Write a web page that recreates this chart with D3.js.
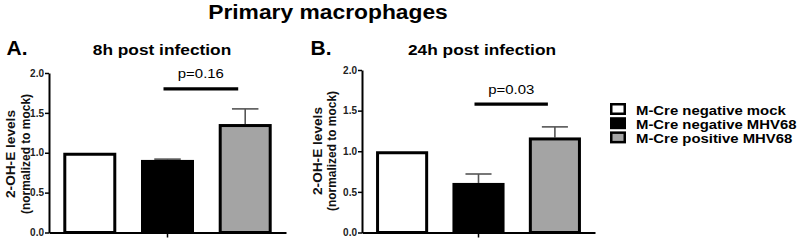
<!DOCTYPE html>
<html>
<head>
<meta charset="utf-8">
<script src="https://cdn.jsdelivr.net/npm/d3@7"></script>
<style>
  body { margin: 0; background: #fff; }
  svg { display: block; font-family: "Liberation Sans", Arial, sans-serif; }
</style>
</head>
<body>
<svg id="chart" width="800" height="241"></svg>
<script>
// data
const groups = ["M-Cre negative mock", "M-Cre negative MHV68", "M-Cre positive MHV68"];
const panelLetters = ["A.", "B."];
const panelTitles = ["8h post infection", "24h post infection"];
const means8h = [1.0, 0.91, 1.36];
const sem8h = [0, 0.01, 0.19];
const means24h = [1.0, 0.61, 1.17];
const sem24h = [0, 0.11, 0.13];
const pLabels = ["p=0.16", "p=0.03"];
const pLevels = [1.8, 1.58];
const yTicks = [0, 0.5, 1.0, 1.5, 2.0];
const fills = ["#ffffff", "#000000", "#a4a4a4"];

const svg = d3.select("#chart");

// text helper, the figure's lettering is a bit wider than Liberation Sans
function label(g, x, y, str, size, weight, anchor, sx) {
  return g.append("text")
    .attr("transform", `translate(${x},${y}) scale(${sx || 1},1)`)
    .attr("text-anchor", anchor || "start")
    .style("font-size", size + "px")
    .style("font-weight", weight || "bold")
    .attr("fill", "#000")
    .text(str);
}

label(svg, 328, 18.5, "Primary macrophages", 19.5, "bold", "middle", 1.17);

const panels = [
  { means: means8h, sem: sem8h, x0: 49, x1: 286, yTop: 73, letterX: 6.5, titleX: 162, lab1: 15, lab2: 29.5, labY: 154 },
  { means: means24h, sem: sem24h, x0: 362, x1: 595, yTop: 70, letterX: 310.5, titleX: 482, lab1: 322, lab2: 336, labY: 151 }
];

panels.forEach((p, i) => {
  const g = svg.append("g");

  const x = d3.scaleBand()
    .domain(groups)
    .range([p.x0, p.x1])
    .paddingInner(0.318)
    .paddingOuter(0.184);

  const y = d3.scaleLinear()
    .domain([0, 2])
    .range([232.5, p.yTop]);

  label(g, p.letterX, 55, panelLetters[i], 21, "bold", "start", 1);
  label(g, p.titleX, 54.5, panelTitles[i], 14.8, "bold", "middle", 1.17);

  // y title, two lines
  const yl = g.append("text")
    .attr("transform", `rotate(-90)`)
    .attr("text-anchor", "middle")
    .style("font-size", "12.5px")
    .style("font-weight", "bold")
    .attr("fill", "#111");
  yl.append("tspan").attr("x", -p.labY).attr("y", p.lab1)
    .attr("textLength", 88).attr("lengthAdjust", "spacingAndGlyphs").text("2-OH-E levels");
  yl.append("tspan").attr("x", -p.labY).attr("y", p.lab2)
    .attr("textLength", 120).attr("lengthAdjust", "spacingAndGlyphs").text("(normalized to mock)");

  const bw = x.bandwidth();

  // error bars (upper whisker only)
  const err = g.append("g").attr("stroke", "#555").attr("stroke-width", 1.6);
  groups.forEach((d, j) => {
    if (p.sem[j] <= 0) return;
    const cx = x(d) + bw / 2;
    err.append("line")
      .attr("x1", cx).attr("x2", cx)
      .attr("y1", y(p.means[j])).attr("y2", y(p.means[j] + p.sem[j]));
    err.append("line")
      .attr("x1", cx - bw / 4).attr("x2", cx + bw / 4)
      .attr("y1", y(p.means[j] + p.sem[j])).attr("y2", y(p.means[j] + p.sem[j]));
  });

  g.selectAll("rect.bar")
    .data(groups)
    .join("rect")
    .attr("class", "bar")
    .attr("x", d => x(d) + 1.5)
    .attr("width", bw - 3)
    .attr("y", (d, j) => y(p.means[j]) + 1.5)
    .attr("height", (d, j) => y(0) - y(p.means[j]) - 1.5)
    .attr("fill", (d, j) => fills[j])
    .attr("stroke", "#000")
    .attr("stroke-width", 3);

  // axes
  const ay = g.append("g")
    .attr("transform", `translate(${p.x0},0)`)
    .call(d3.axisLeft(y).tickValues(yTicks).tickFormat(d3.format(".1f")).tickSize(4).tickSizeOuter(0).tickPadding(1));
  ay.select(".domain").attr("stroke-width", 2);
  ay.selectAll(".tick line").attr("stroke-width", 1.5);
  ay.selectAll(".tick text")
    .style("font-size", "10px")
    .style("font-weight", "bold")
    .style("font-family", "'Liberation Sans', Arial, sans-serif")
    .attr("fill", "#222");

  const ax = g.append("g")
    .attr("transform", `translate(0,${y(0)})`)
    .call(d3.axisBottom(x).tickValues([groups[1]]).tickFormat("").tickSize(5).tickSizeOuter(0));
  ax.select(".domain").attr("stroke-width", 2);
  ax.selectAll(".tick line").attr("stroke-width", 1.5);

  // significance line between groups 2 and 3
  const sx1 = x(groups[1]) + bw / 2 - 4;
  const sx2 = x(groups[2]) + bw / 2 - 7;
  g.append("line")
    .attr("x1", sx1).attr("x2", sx2)
    .attr("y1", y(pLevels[i])).attr("y2", y(pLevels[i]))
    .attr("stroke", "#000").attr("stroke-width", 3.2);
  label(g, (sx1 + sx2) / 2, y(pLevels[i]) - 10.5, pLabels[i], 13, "normal", "middle", 1.15);
});

// legend
const legend = svg.append("g").attr("transform", "translate(610,103)");
groups.forEach((d, j) => {
  const row = legend.append("g").attr("transform", `translate(0,${j * 14.2})`);
  row.append("rect")
    .attr("x", 1.25).attr("y", 1.25)
    .attr("width", 13.5).attr("height", 9.5)
    .attr("fill", fills[j])
    .attr("stroke", "#000")
    .attr("stroke-width", 2.5);
  label(row, 26, 11.5, d, 13.3, "bold", "start", 1.12);
});
</script>
</body>
</html>
